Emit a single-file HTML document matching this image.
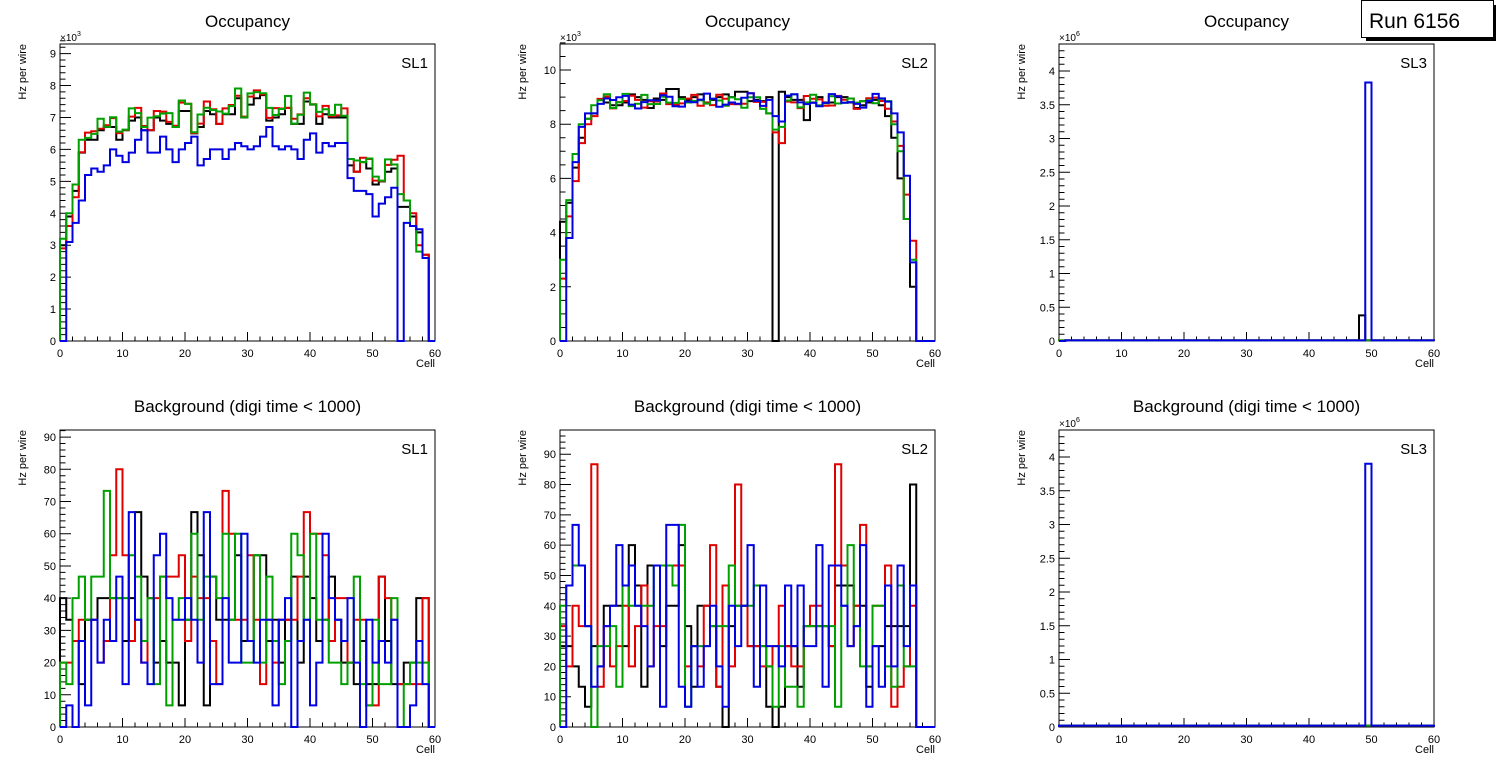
<!DOCTYPE html>
<html><head><meta charset="utf-8"><style>
html,body{margin:0;padding:0;background:#fff;}
svg{display:block;font-family:"Liberation Sans",sans-serif;}
</style></head><body>
<svg id="s" width="1496" height="772" xmlns="http://www.w3.org/2000/svg"></svg>
<script>
const S=document.getElementById('s');let out='';
function f(v){return v.toFixed(2);}
function panel(o){
  const x0=o.x0,y0=o.yt,w=375,yb=o.yb,h=yb-y0;
  const X=c=>x0+c*w/60, Y=v=>yb-v/o.ymax*h;
  out+=`<text x="${x0+w/2}" y="${o.ty}" font-size="17" text-anchor="middle">${o.title}</text>`;
  out+=`<text x="${x0+w-7}" y="${y0+24}" font-size="15" text-anchor="end">${o.sl}</text>`;
  out+=`<rect x="${x0}" y="${y0}" width="${w}" height="${h}" fill="none" stroke="#000" stroke-width="1"/>`;
  let p='';
  for(let c=0;c<=60;c+=2){const L=(c%10==0)?9:4.5;p+=`M${f(X(c))},${yb}v${-L}`;}
  for(let c=0;c<=60;c+=10){out+=`<text x="${f(X(c))}" y="${yb+16}" font-size="11" text-anchor="middle">${c}</text>`;}
  const nm=Math.round(o.ymax/o.minor);
  for(let k=0;k<=nm;k++){const v=k*o.minor;const maj=Math.abs(v/o.major-Math.round(v/o.major))<1e-6;p+=`M${x0},${f(Y(v))}h${maj?11:5.5}`;
    if(maj){out+=`<text x="${x0-4}" y="${f(Y(v)+4)}" font-size="11" text-anchor="end">${o.lab?o.lab(v):v}</text>`;}}
  out+=`<path d="${p}" stroke="#000" stroke-width="1" fill="none"/>`;
  out+=`<text x="${x0+w}" y="${yb+26}" font-size="11" text-anchor="end">Cell</text>`;
  out+=`<text transform="translate(${x0-34},${y0}) rotate(-90)" font-size="11" text-anchor="end">Hz per wire</text>`;
  if(o.exp){out+=`<text x="${x0}" y="${y0-3}" font-size="10">×10<tspan dy="-5" font-size="7">${o.exp}</tspan></text>`;}
  const cols=['#000','#e00000','#00a000','#0000e0'];
  o.data.forEach((d,si)=>{let q=`M${f(X(0))},${f(Y(0))}`;
    for(let i=0;i<60;i++){const v=Math.min(d[i]||0,o.ymax);q+=`L${f(X(i))},${f(Y(v))}L${f(X(i+1))},${f(Y(v))}`;}
    q+=`L${f(X(60))},${f(Y(0))}`;
    out+=`<path d="${q}" stroke="${cols[si]}" stroke-width="2" fill="none" stroke-linejoin="miter"/>`;});
}
const K1=[3.0,3.9,4.7,5.9,6.3,6.3,6.6,6.7,6.7,6.3,6.6,6.9,7.0,6.6,6.6,7.0,6.9,6.8,6.7,7.2,7.2,6.5,6.7,7.2,7.1,6.8,7.1,7.1,7.6,7.0,7.4,7.6,7.7,6.9,7.0,7.1,7.3,6.8,6.8,7.5,7.4,6.8,7.1,7.0,7.0,7.0,5.5,5.3,5.6,5.4,4.9,5.0,5.3,5.4,4.2,4.2,3.9,3.4,2.7,0];
const R1=K1.map((v,i)=>v==0?0:v+0.15+0.15*Math.sin(i*1.7));
const G1=K1.map((v,i)=>v==0?0:v+0.2+0.2*Math.sin(i*2.3+1));
R1[0]=2.9;G1[0]=3.2;R1[1]=3.6;G1[1]=4.0;R1[2]=4.5;G1[2]=4.9;R1[54]=5.8;G1[54]=4.6;R1[55]=4.4;G1[55]=4.4;R1[56]=4.0;G1[56]=3.6;R1[57]=3.0;G1[57]=2.8;R1[58]=2.7;G1[58]=2.6;
const B1=[0,3.1,3.7,4.4,5.2,5.4,5.3,5.5,6.0,5.8,5.6,5.9,6.3,6.6,5.9,5.9,6.4,6.0,5.6,6.0,6.2,6.4,5.5,5.7,6.0,6.0,5.7,6.0,6.2,6.1,6.0,6.1,6.4,6.7,6.1,6.0,6.1,6.0,5.7,6.3,6.5,5.9,6.2,6.1,6.2,6.2,5.1,4.7,4.7,4.6,3.9,4.3,4.5,4.8,0,3.7,3.6,3.5,2.6,0];
const K2=[4.4,5.1,6.4,7.5,8.2,8.4,8.9,8.8,8.7,8.7,8.8,9.1,9.0,8.9,8.6,8.95,8.9,9.3,9.3,9.0,8.9,9.0,9.1,8.8,8.9,9.0,9.1,9.0,9.2,9.2,8.85,8.9,8.85,9.0,0,9.2,9.0,8.9,8.9,8.15,8.8,9.0,8.8,8.8,9.0,9.0,8.8,8.6,8.7,8.8,8.9,8.7,8.3,7.5,6.0,4.5,2.0,0,0,0];
function plat(seed,head,tail,mid){const a=[];for(let i=0;i<60;i++){a.push(8.85+0.18*Math.sin(i*seed)+0.12*Math.cos(i*seed*2.1));}
  head.forEach((v,i)=>a[i]=v);tail.forEach((v,i)=>a[53+i]=v);a[33]=mid[0];a[34]=mid[1];a[35]=mid[2];a[57]=a[58]=a[59]=0;return a;}
const R2=plat(1.3,[2.3,4.6,5.9,7.3,8.0,8.3],[8.1,7.2,5.4,3.7],[8.4,7.7,7.3]);
const G2=plat(2.1,[3.0,5.2,6.9,8.0,8.2,8.7],[8.0,7.0,4.5,3.0],[8.4,7.8,7.9]);
const B2=plat(0.9,[0,3.8,6.6,7.9,8.4,8.4],[8.4,7.7,6.1,2.9],[8.9,8.3,8.1]);
const small=a=>{const r=[];for(let i=0;i<60;i++)r.push(a);return r;};
const K3=small(0.01),R3=small(0.01),G3=small(0.01),B3=small(0.01);K3[48]=0.38;B3[49]=3.83;K3[0]=0;B3[0]=0;
const K4=[40,33.3,26.7,13.3,33.3,33.3,40,40,40,40,26.7,40,66.7,46.7,40,20,26.7,20,20,6.7,33.3,66.7,53.3,6.7,46.7,33.3,33.3,33.3,53.3,26.7,26.7,53.3,53.3,26.7,33.3,20,33.3,46.7,20,46.7,40,26.7,33.3,46.7,33.3,20,20,13.3,26.7,13.3,13.3,46.7,26.7,13.3,13.3,20,20,40,40,0];
const R4=[20,20,26.7,33.3,33.3,33.3,20,26.7,53.3,80,53.3,26.7,33.3,20,40,40,46.7,46.7,46.7,53.3,26.7,46.7,40,40,26.7,13.3,73.3,60,33.3,33.3,53.3,33.3,13.3,33.3,20,33.3,33.3,33.3,46.7,66.7,60,60,53.3,26.7,40,40,20,33.3,33.3,6.7,6.7,46.7,40,33.3,13.3,13.3,13.3,13.3,40,0];
const G4=[20,13.3,40,46.7,33.3,46.7,46.7,73.3,40,40,40,53.3,46.7,26.7,40,13.3,46.7,6.7,33.3,40,33.3,60,33.3,46.7,46.7,40,60,33.3,60,20,20,53.3,20,46.7,26.7,13.3,26.7,60,53.3,33.3,60,33.3,33.3,20,20,13.3,20,46.7,13.3,6.7,33.3,13.3,13.3,40,0,13.3,20,20,20,0];
const B4=[0,6.7,0,26.7,6.7,33.3,20,33.3,26.7,46.7,13.3,66.7,33.3,20,13.3,53.3,60,40,33.3,33.3,40,33.3,20,66.7,13.3,13.3,40,20,20,60,26.7,20,33.3,33.3,6.7,33.3,40,0,26.7,33.3,6.7,20,60,40,33.3,26.7,40,20,0,33.3,20,26.7,20,33.3,0,0,6.7,26.7,13.3,0];
const K5=[26.7,26.7,20,13.3,6.7,26.7,20,40,40,40,26.7,60,46.7,13.3,53.3,53.3,26.7,40,40,60,33.3,13.3,40,40,33.3,13.3,0,33.3,40,40,26.7,26.7,26.7,6.7,0,6.7,26.7,26.7,13.3,33.3,33.3,33.3,33.3,26.7,46.7,46.7,46.7,40,40,13.3,26.7,26.7,33.3,33.3,33.3,33.3,80,0,0,0];
const R5=[33.3,20,40,33.3,33.3,86.7,13.3,33.3,20,26.7,40,20,33.3,46.7,20,33.3,33.3,53.3,53.3,53.3,20,26.7,20,40,60,13.3,46.7,20,80,40,26.7,26.7,20,20,26.7,40,26.7,20,20,33.3,40,40,33.3,26.7,86.7,53.3,26.7,40,66.7,20,40,40,53.3,6.7,13.3,20,40,0,0,0];
const G5=[40,46.7,53.3,53.3,33.3,0,26.7,26.7,33.3,13.3,46.7,40,40,40,40,53.3,53.3,53.3,46.7,66.7,6.7,26.7,26.7,26.7,33.3,33.3,33.3,53.3,40,40,40,46.7,26.7,20,6.7,26.7,13.3,13.3,6.7,33.3,33.3,33.3,33.3,33.3,6.7,40,60,33.3,20,20,40,40,20,13.3,46.7,20,20,0,0,0];
const B5=[0,46.7,66.7,53.3,33.3,13.3,20,33.3,40,60,46.7,53.3,40,33.3,20,53.3,6.7,66.7,66.7,13.3,6.7,26.7,13.3,26.7,40,20,6.7,40,26.7,40,60,13.3,46.7,26.7,26.7,20,46.7,26.7,46.7,26.7,26.7,60,13.3,53.3,53.3,40,26.7,33.3,60,6.7,26.7,13.3,46.7,20,53.3,26.7,46.7,0,0,0];
const K6=small(0.02),R6=small(0.02),G6=small(0.02),B6=small(0.02);B6[49]=3.9;
const yl=v=>Math.round(v*10)/10;
panel({x0:60,yt:44,yb:341,ymax:9.3,major:1,minor:0.2,title:'Occupancy',ty:27,sl:'SL1',exp:'3',data:[K1,R1,G1,B1]});
panel({x0:560,yt:44,yb:341,ymax:10.96,major:2,minor:0.5,title:'Occupancy',ty:27,sl:'SL2',exp:'3',data:[K2,R2,G2,B2]});
panel({x0:1059,yt:44,yb:341,ymax:4.4,major:0.5,minor:0.1,title:'Occupancy',ty:27,sl:'SL3',exp:'6',lab:yl,data:[K3,R3,G3,B3]});
panel({x0:60,yt:430,yb:727,ymax:92.2,major:10,minor:2,title:'Background (digi time &lt; 1000)',ty:412,sl:'SL1',data:[K4,R4,G4,B4]});
panel({x0:560,yt:430,yb:727,ymax:98,major:10,minor:2,title:'Background (digi time &lt; 1000)',ty:412,sl:'SL2',data:[K5,R5,G5,B5]});
panel({x0:1059,yt:430,yb:727,ymax:4.4,major:0.5,minor:0.1,title:'Background (digi time &lt; 1000)',ty:412,sl:'SL3',exp:'6',lab:yl,data:[K6,R6,G6,B6]});
out+=`<rect x="1366" y="37" width="130" height="4" fill="#000"/><rect x="1493" y="5" width="3" height="36" fill="#000"/>`;
out+=`<rect x="1361.5" y="0.5" width="132" height="37" fill="#fff" stroke="#000" stroke-width="1"/>`;
out+=`<text x="1369" y="28" font-size="21">Run 6156</text>`;
S.innerHTML=out;
</script>
</body></html>
